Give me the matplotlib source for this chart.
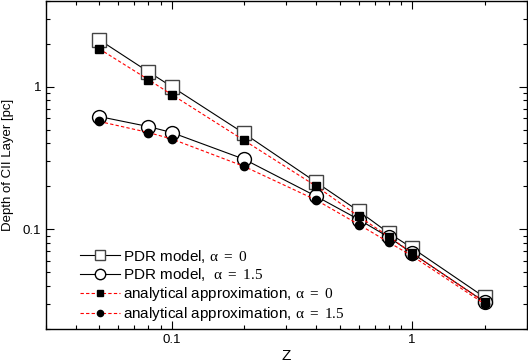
import matplotlib
matplotlib.use("Agg")
import matplotlib.pyplot as plt
from matplotlib.ticker import LogLocator, FixedLocator, FixedFormatter, NullFormatter

plt.rcParams['font.family'] = ['Liberation Sans', 'DejaVu Sans']
plt.rcParams['mathtext.fontset'] = 'custom'
plt.rcParams['mathtext.rm'] = 'Liberation Serif'
plt.rcParams['mathtext.it'] = 'Liberation Serif'

# data
z = [0.05, 0.08, 0.1, 0.2, 0.4, 0.6, 0.8, 1.0, 2.0]
pdr_a0 = [2.13, 1.27, 1.0, 0.47, 0.213, 0.134, 0.094, 0.074, 0.0334]
pdr_a15 = [0.617, 0.525, 0.477, 0.31, 0.17, 0.117, 0.088, 0.068, 0.031]
ana_a0 = [1.84, 1.12, 0.88, 0.42, 0.20, 0.123, 0.089, 0.068, 0.031]
ana_a15 = [0.57, 0.477, 0.43, 0.276, 0.16, 0.108, 0.081, 0.065, 0.030]

labels = [r"PDR model, $\alpha\ =\ 0$",
          r"PDR model,  $\alpha\ =\ 1.5$",
          r"analytical approximation, $\alpha\ =\ 0$",
          r"analytical approximation, $\alpha\ =\ 1.5$"]

fig = plt.figure(figsize=(5.28, 3.64), dpi=100)
ax = fig.add_axes([0.087, 0.096, 0.911, 0.902])

ax.plot(z, pdr_a0, color='black', lw=0.8, marker='s', ms=10, mfc='white',
        mec='#444444', mew=1.0, label=labels[0])
ax.plot(z, pdr_a15, color='black', lw=0.8, marker='o', ms=10, mfc='white',
        mec='black', mew=1.0, label=labels[1])
ax.plot(z, ana_a0, color='red', lw=0.8, ls=(0, (3, 2)), marker='s', ms=6,
        mfc='black', mec='black', label=labels[2])
ax.plot(z, ana_a15, color='red', lw=0.8, ls=(0, (3, 2)), marker='o', ms=6,
        mfc='black', mec='black', label=labels[3])

ax.set_xscale('log')
ax.set_yscale('log')
ax.set_xlim(0.03, 3.0)
ax.set_ylim(0.02, 4.0)

ax.xaxis.set_major_locator(FixedLocator([0.1, 1]))
ax.xaxis.set_major_formatter(FixedFormatter(["0.1", "1"]))
ax.xaxis.set_minor_locator(LogLocator(base=10, subs=range(2, 10)))
ax.xaxis.set_minor_formatter(NullFormatter())
ax.yaxis.set_major_locator(FixedLocator([0.1, 1]))
ax.yaxis.set_major_formatter(FixedFormatter(["0.1", "1"]))
ax.yaxis.set_minor_locator(LogLocator(base=10, subs=range(2, 10)))
ax.yaxis.set_minor_formatter(NullFormatter())

ax.tick_params(which='both', direction='in', top=True, right=True, width=0.8)
ax.tick_params(which='major', length=6, labelsize=9.5)
ax.tick_params(which='minor', length=3)
for s in ax.spines.values():
    s.set_linewidth(1.0)

ax.set_xlabel("Z", fontsize=11, labelpad=2)
ax.set_ylabel("Depth of CII Layer [pc]", fontsize=9.5, labelpad=6)

ax.legend(loc='lower left', bbox_to_anchor=(0.055, -0.005), frameon=False,
          fontsize=11, handlelength=2.6, handletextpad=0.2, labelspacing=0.12,
          borderpad=0, markerscale=0.75)

fig.savefig("out.png", dpi=100)
